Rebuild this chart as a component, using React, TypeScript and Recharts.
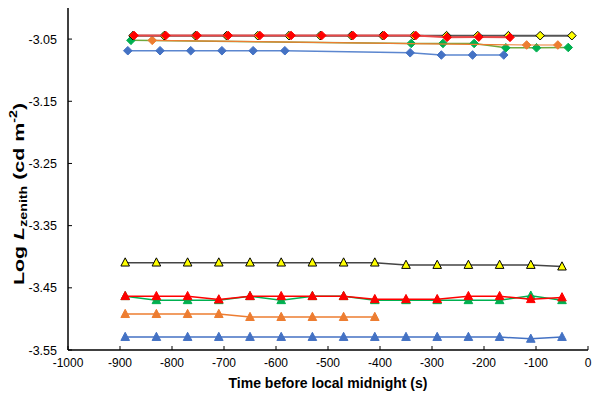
import React from 'react';
import { ScatterChart, Scatter, XAxis, YAxis } from 'recharts';

// upper group (diamonds)
const yellowDiamondX = [-875, -815, -755, -695, -635, -575, -515, -455, -395, -335, -272, -212, -153, -92, -31];
const yellowDiamondY = [-3.0445, -3.0445, -3.0445, -3.0445, -3.0445, -3.0445, -3.0445, -3.0445, -3.0445, -3.0445, -3.0445, -3.0445, -3.0445, -3.0445, -3.0445];
const redDiamondX = [-873, -812, -752, -692, -631, -571, -512, -452, -392, -331, -271, -210, -150];
const redDiamondY = [-3.0442, -3.0442, -3.0442, -3.0442, -3.0442, -3.0442, -3.0442, -3.0442, -3.0442, -3.0442, -3.0472, -3.0468, -3.0472];
const greenDiamondX = [-879, -340, -279, -219, -158, -99, -38];
const greenDiamondY = [-3.052, -3.057, -3.057, -3.057, -3.064, -3.064, -3.0635];
const orangeDiamondX = [-838, -118, -58];
const orangeDiamondY = [-3.052, -3.0595, -3.0595];
const blueDiamondX = [-885, -823, -764, -704, -644, -583, -342, -282, -222, -162];
const blueDiamondY = [-3.0687, -3.0687, -3.0687, -3.0687, -3.0687, -3.0687, -3.072, -3.0756, -3.0756, -3.0756];

// lower group (triangles)
const triangleX = [-890, -830, -770, -710, -650, -590, -530, -470, -410, -350, -290, -230, -170, -110, -50];
const yellowTriY = [-3.4095, -3.4095, -3.4095, -3.4095, -3.4095, -3.4095, -3.4095, -3.4095, -3.4095, -3.4133, -3.4133, -3.4133, -3.4133, -3.4133, -3.4159];
const redTriY = [-3.4635, -3.4635, -3.4635, -3.4688, -3.4635, -3.4635, -3.4635, -3.4635, -3.4683, -3.4683, -3.4683, -3.4635, -3.4635, -3.4683, -3.4655];
const greenTriY = [-3.4635, -3.47, -3.47, -3.47, -3.4635, -3.47, -3.4635, -3.4635, -3.47, -3.47, -3.47, -3.47, -3.47, -3.4628, -3.47];
const orangeTriX = [-890, -830, -770, -710, -650, -590, -530, -470, -410];
const orangeTriY = [-3.4923, -3.4923, -3.4923, -3.4923, -3.4971, -3.4971, -3.4971, -3.4971, -3.4971];
const blueTriY = [-3.5292, -3.5292, -3.5292, -3.5292, -3.5292, -3.5292, -3.5292, -3.5292, -3.5292, -3.5292, -3.5292, -3.5292, -3.5292, -3.5321, -3.5292];

const xTicks = [-1000, -900, -800, -700, -600, -500, -400, -300, -200, -100, 0];
const yTicks = [-3.55, -3.45, -3.35, -3.25, -3.15, -3.05];

const toPoints = (xs: number[], ys: number[]) => xs.map((x, i) => ({ x, y: ys[i] }));

const FONT = '"Liberation Sans", Arial, Helvetica, sans-serif';

const diamond = (fill: string, stroke: string) => (p: any) => {
  const { cx, cy } = p;
  const r = 4.3;
  return (
    <polygon
      points={`${cx},${cy - r} ${cx + r},${cy} ${cx},${cy + r} ${cx - r},${cy}`}
      fill={fill}
      stroke={stroke}
      strokeWidth={1}
    />
  );
};

const triangle = (fill: string, stroke: string) => (p: any) => {
  const { cx, cy } = p;
  return (
    <polygon
      points={`${cx},${cy - 4.8} ${cx + 4.3},${cy + 3.4} ${cx - 4.3},${cy + 3.4}`}
      fill={fill}
      stroke={stroke}
      strokeWidth={1}
    />
  );
};

const XTick = (props: any) => {
  const { x, y, payload } = props;
  return (
    <g>
      <line x1={x} y1={y} x2={x} y2={y - 4} stroke="#000" strokeWidth={1} />
      <text x={x} y={y + 17} textAnchor="middle" fontSize={12} fontFamily={FONT} fill="#000">
        {payload.value}
      </text>
    </g>
  );
};

const YTick = (props: any) => {
  const { x, y, payload } = props;
  return (
    <g>
      <line x1={x} y1={y} x2={x + 4} y2={y} stroke="#000" strokeWidth={1} />
      <text x={x - 11} y={y + 4.5} textAnchor="end" fontSize={12.5} fontFamily={FONT} fill="#000">
        {Number(payload.value).toFixed(2)}
      </text>
    </g>
  );
};

const XTitle = () => (
  <text x={328} y={388} textAnchor="middle" fontSize={14} fontWeight="bold" fontFamily={FONT} fill="#000">
    Time before local midnight (s)
  </text>
);

const YTitle = () => (
  <text
    x={-285}
    y={0}
    transform="translate(24,0) rotate(-90)"
    fontSize={15}
    fontWeight="bold"
    fontFamily={FONT}
    fill="#000"
    textLength={182}
    lengthAdjust="spacingAndGlyphs"
  >
    {'Log  '}
    <tspan fontStyle="italic">L</tspan>
    <tspan fontSize={10} dy={3}>zenith</tspan>
    <tspan dy={-3}>{'  (cd m'}</tspan>
    <tspan fontSize={10} dy={-7}>-2</tspan>
    <tspan dy={7}>)</tspan>
  </text>
);

const App: React.FC = () => {
  return (
    <div style={{ position: 'absolute', left: 0, top: 0, background: '#fff' }}>
      <ScatterChart width={598} height={399} margin={{ top: 8, right: 10, bottom: 0, left: 0 }}>
        <XAxis
          type="number"
          dataKey="x"
          domain={[-1000, 0]}
          ticks={xTicks}
          height={49}
          tickSize={0}
          tickMargin={0}
          tickLine={false}
          tick={<XTick />}
          axisLine={{ stroke: '#000', strokeWidth: 1.5 }}
          allowDataOverflow
          label={{ content: <XTitle /> }}
        />
        <YAxis
          type="number"
          dataKey="y"
          domain={[-3.55, -3.0]}
          ticks={yTicks}
          width={68}
          tickSize={0}
          tickMargin={0}
          tickLine={false}
          tick={<YTick />}
          axisLine={{ stroke: '#000', strokeWidth: 1.5 }}
          allowDataOverflow
          label={{ content: <YTitle /> }}
        />

        <Scatter data={toPoints(blueDiamondX, blueDiamondY)} fill="#4472c4" line={{ stroke: '#5b86cf', strokeWidth: 1.5 }} shape={diamond('#4472c4', '#4472c4')} isAnimationActive={false} />
        <Scatter data={toPoints(greenDiamondX, greenDiamondY)} fill="#00b050" line={{ stroke: '#70a83c', strokeWidth: 1.5 }} shape={diamond('#00b050', '#00b050')} isAnimationActive={false} />
        <Scatter data={toPoints(orangeDiamondX, orangeDiamondY)} fill="#ed7d31" line={{ stroke: '#ed7d31', strokeWidth: 1.2 }} shape={diamond('#ed7d31', '#ed7d31')} isAnimationActive={false} />
        <Scatter data={toPoints(yellowDiamondX, yellowDiamondY)} fill="#ffff00" line={{ stroke: '#555', strokeWidth: 2 }} shape={diamond('#ffff00', '#000')} isAnimationActive={false} />
        <Scatter data={toPoints(redDiamondX, redDiamondY)} fill="#ff0000" line={{ stroke: '#e84848', strokeWidth: 2 }} shape={diamond('#ff0000', '#ff0000')} isAnimationActive={false} />

        <Scatter data={toPoints(triangleX, yellowTriY)} fill="#ffff00" line={{ stroke: '#444', strokeWidth: 1.5 }} shape={triangle('#ffff00', '#000')} isAnimationActive={false} />
        <Scatter data={toPoints(triangleX, greenTriY)} fill="#00b050" line={{ stroke: '#00b050', strokeWidth: 1.5 }} shape={triangle('#00b050', '#00b050')} isAnimationActive={false} />
        <Scatter data={toPoints(triangleX, redTriY)} fill="#ff0000" line={{ stroke: '#ff0000', strokeWidth: 1.5 }} shape={triangle('#ff0000', '#ff0000')} isAnimationActive={false} />
        <Scatter data={toPoints(orangeTriX, orangeTriY)} fill="#ed7d31" line={{ stroke: '#ed7d31', strokeWidth: 1.5 }} shape={triangle('#ed7d31', '#ed7d31')} isAnimationActive={false} />
        <Scatter data={toPoints(triangleX, blueTriY)} fill="#4472c4" line={{ stroke: '#4472c4', strokeWidth: 1.5 }} shape={triangle('#4472c4', '#4472c4')} isAnimationActive={false} />
      </ScatterChart>
    </div>
  );
};

export default App;
